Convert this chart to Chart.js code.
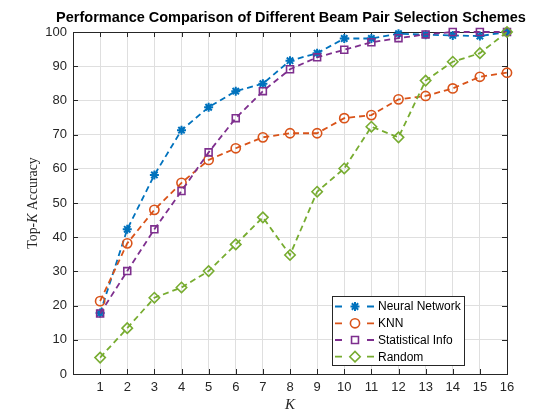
<!DOCTYPE html>
<html>
<head>
<meta charset="utf-8">
<script src="https://cdn.jsdelivr.net/npm/chart.js@4.4.1/dist/chart.umd.min.js"></script>
<style>
  html, body { margin: 0; padding: 0; background: #fff; }
  #wrap { width: 560px; height: 420px; }
</style>
</head>
<body>
<div id="wrap"><canvas id="chart" width="560" height="420"></canvas></div>
<script>
const K = [1, 2, 3, 4, 5, 6, 7, 8, 9, 10, 11, 12, 13, 14, 15, 16];
const neuralNetwork = [17.8, 42.3, 58.2, 71.3, 78.0, 82.7, 84.9, 91.6, 93.8, 98.1, 98.1, 99.5, 99.2, 99.0, 98.8, 100];
const knn = [21.3, 38.2, 48.0, 55.9, 62.6, 66.0, 69.2, 70.4, 70.4, 74.8, 75.7, 80.3, 81.3, 83.5, 86.9, 88.1];
const statisticalInfo = [17.7, 30.1, 42.3, 53.5, 64.8, 74.8, 82.7, 89.1, 92.6, 94.8, 97.0, 98.2, 99.3, 100, 100, 100];
const random = [4.8, 13.4, 22.3, 25.3, 30.1, 37.9, 45.8, 34.8, 53.3, 60.1, 72.3, 69.2, 85.8, 91.3, 93.8, 100];
const seriesNames = ['Neural Network', 'KNN', 'Statistical Info', 'Random'];
const titleText = 'Performance Comparison of Different Beam Pair Selection Schemes';

const colors = ['#0072BD', '#D95319', '#7E2F8E', '#77AC30'];
const markers = [
  { pointStyle: 'star', radius: 4.5, borderWidth: 2 },
  { pointStyle: 'circle', radius: 4.6, borderWidth: 1.6 },
  { pointStyle: 'rect', radius: 4.9, borderWidth: 1.6 },
  { pointStyle: 'rectRot', radius: 5.2, borderWidth: 1.6 }
];
const axisColor = '#262626';
const gridColor = '#dfdfdf';

function makeDataset(i, values) {
  return {
    label: seriesNames[i],
    data: K.map((k, j) => ({ x: k, y: values[j] })),
    borderColor: colors[i],
    backgroundColor: 'rgba(0,0,0,0)',
    borderWidth: 1.8,
    borderDash: [6, 4],
    pointStyle: markers[i].pointStyle,
    pointRadius: markers[i].radius,
    pointBorderWidth: markers[i].borderWidth,
    pointBorderColor: colors[i],
    pointBackgroundColor: 'rgba(0,0,0,0)',
    tension: 0,
    clip: false,
    order: 4 - i
  };
}

// box, inner ticks, labels and legend in MATLAB style
const decorations = {
  id: 'decorations',
  beforeDatasetsDraw(chart) {
    const { ctx, chartArea: a, scales } = chart;
    ctx.save();
    ctx.strokeStyle = axisColor;
    ctx.lineWidth = 1;
    const t = 5;
    ctx.beginPath();
    K.forEach(k => {
      const x = Math.round(scales.x.getPixelForValue(k)) + 0.5;
      ctx.moveTo(x, a.bottom); ctx.lineTo(x, a.bottom - t);
      ctx.moveTo(x, a.top); ctx.lineTo(x, a.top + t);
    });
    for (let v = 10; v < 100; v += 10) {
      const y = Math.round(scales.y.getPixelForValue(v)) + 0.5;
      ctx.moveTo(a.left, y); ctx.lineTo(a.left + t, y);
      ctx.moveTo(a.right, y); ctx.lineTo(a.right - t, y);
    }
    ctx.stroke();
    ctx.strokeRect(Math.round(a.left) + 0.5, Math.round(a.top) + 0.5,
      Math.round(a.right - a.left), Math.round(a.bottom - a.top));
    ctx.restore();
  },
  afterDraw(chart) {
    const { ctx, chartArea: a } = chart;
    ctx.save();
    // title
    ctx.fillStyle = '#000';
    ctx.font = 'bold 14.5px "Liberation Sans", Arial, sans-serif';
    ctx.textAlign = 'center';
    ctx.textBaseline = 'middle';
    ctx.fillText(titleText, (a.left + a.right) / 2 + 1, 18);

    // x axis title
    ctx.fillStyle = axisColor;
    ctx.font = 'italic 15px "Liberation Serif", "DejaVu Serif", serif';
    ctx.fillText('K', (a.left + a.right) / 2, 405);

    // y axis title with italic K
    const parts = [
      { text: 'Top-', font: '13.8px "Liberation Serif", "DejaVu Serif", serif' },
      { text: 'K', font: 'italic 13.8px "Liberation Serif", "DejaVu Serif", serif' },
      { text: ' Accuracy', font: '13.8px "Liberation Serif", "DejaVu Serif", serif' }
    ];
    let total = 0;
    parts.forEach(p => { ctx.font = p.font; p.w = ctx.measureText(p.text).width; total += p.w; });
    ctx.translate(33, (a.top + a.bottom) / 2);
    ctx.rotate(-Math.PI / 2);
    ctx.textAlign = 'left';
    let px = -total / 2;
    parts.forEach(p => { ctx.font = p.font; ctx.fillText(p.text, px, 0); px += p.w; });
    ctx.setTransform(1, 0, 0, 1, 0, 0);
    ctx.scale(chart.currentDevicePixelRatio, chart.currentDevicePixelRatio);

    // legend
    const lx = 332, ly = 296, lw = 132, lh = 69;
    ctx.fillStyle = '#fff';
    ctx.fillRect(lx, ly, lw, lh);
    ctx.strokeStyle = axisColor;
    ctx.lineWidth = 1;
    ctx.strokeRect(lx + 0.5, ly + 0.5, lw, lh);
    const rows = [306.5, 323.3, 340, 356.7];
    ctx.font = '12px "Liberation Sans", Arial, sans-serif';
    ctx.textBaseline = 'middle';
    ctx.textAlign = 'left';
    chart.data.datasets.forEach((ds, i) => {
      const y = rows[i];
      ctx.strokeStyle = colors[i];
      ctx.lineWidth = 1.8;
      ctx.setLineDash([]);
      ctx.beginPath();
      ctx.moveTo(335, y); ctx.lineTo(342, y);
      ctx.moveTo(367, y); ctx.lineTo(374, y);
      ctx.stroke();
      ctx.fillStyle = 'rgba(0,0,0,0)';
      ctx.lineWidth = markers[i].borderWidth;
      Chart.helpers.drawPoint(ctx, {
        pointStyle: markers[i].pointStyle,
        radius: markers[i].radius,
        rotation: 0,
        borderWidth: markers[i].borderWidth
      }, 355, y);
      ctx.fillStyle = '#000';
      ctx.fillText(ds.label, 378, y + 0.5);
    });
    ctx.restore();
  }
};

new Chart(document.getElementById('chart'), {
  type: 'line',
  data: {
    datasets: [
      makeDataset(0, neuralNetwork),
      makeDataset(1, knn),
      makeDataset(2, statisticalInfo),
      makeDataset(3, random)
    ]
  },
  options: {
    responsive: false,
    animation: false,
    devicePixelRatio: 1,
    layout: { padding: { top: 32, right: 53, left: 0, bottom: 0 } },
    plugins: {
      legend: { display: false },
      title: { display: false },
      tooltip: { enabled: false }
    },
    scales: {
      x: {
        type: 'linear',
        min: 0,
        max: 16,
        afterFit: s => { s.height = 46; },
        ticks: {
          stepSize: 1,
          padding: 6,
          color: axisColor,
          font: { family: '"Liberation Sans", Arial, sans-serif', size: 13 },
          callback: v => (v === 0 ? '' : v)
        },
        grid: { color: gridColor, drawTicks: false },
        border: { display: false }
      },
      y: {
        min: 0,
        max: 100,
        afterFit: s => { s.width = 73; },
        ticks: {
          stepSize: 10,
          padding: 6,
          color: axisColor,
          font: { family: '"Liberation Sans", Arial, sans-serif', size: 13 }
        },
        grid: { color: gridColor, drawTicks: false },
        border: { display: false }
      }
    }
  },
  plugins: [decorations]
});
</script>
</body>
</html>
